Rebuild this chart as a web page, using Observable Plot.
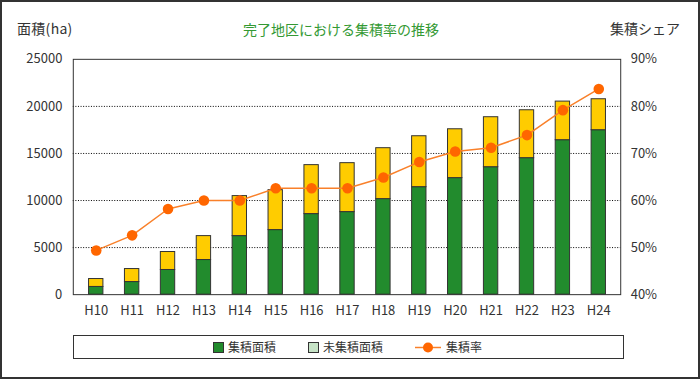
<!DOCTYPE html>
<html>
<head>
<meta charset="utf-8">
<script src="https://cdn.jsdelivr.net/npm/d3@7"></script>
<script src="https://cdn.jsdelivr.net/npm/@observablehq/plot@0.6"></script>
<style>
  html, body { margin: 0; padding: 0; background: #fff; }
  #wrap { position: relative; width: 700px; height: 379px; box-sizing: border-box; border: 2px solid #333; overflow: hidden;
          font-family: "Noto Sans CJK JP", "Noto Sans", sans-serif; color: #333; }
  #chart { position: absolute; left: -2px; top: -2px; }
  .lbl { position: absolute; white-space: nowrap; line-height: 20px; }
  #legend { position: absolute; left: 71px; top: 333px; width: 549px; height: 22px; border: 1px solid #333; font-size: 12px; }
  #legend .it { position: absolute; top: 0; line-height: 22px; white-space: nowrap; }
  #legend .sw { position: absolute; top: 6px; width: 9px; height: 9px; border: 1px solid #333; box-sizing: content-box; }
</style>
</head>
<body>
<div id="wrap">
  <div id="chart"></div>
  <div class="lbl" style="left:15px; top:16px; font-size:14px; letter-spacing:0.3px;">面積(ha)</div>
  <div class="lbl" style="left:241px; top:17px; font-size:14px; color:#339933;">完了地区における集積率の推移</div>
  <div class="lbl" style="left:608px; top:16px; font-size:14px;">集積シェア</div>
  <div id="legend"></div>
</div>
<script>
// Categories (fiscal years)
const years = ["H10","H11","H12","H13","H14","H15","H16","H17","H18","H19","H20","H21","H22","H23","H24"];
// 集積面積 (ha)
const collectedArea = [820, 1340, 2620, 3680, 6220, 6860, 8560, 8770, 10150, 11420, 12380, 13540, 14500, 16410, 17470];
// 未集積面積 (ha)
const uncollectedArea = [840, 1380, 1910, 2540, 4250, 4240, 5200, 5200, 5410, 5410, 5190, 5310, 5090, 4100, 3290];
// 集積率 (%)
const collectionRate = [49.4, 52.6, 58.2, 60.0, 60.0, 62.6, 62.6, 62.6, 64.9, 68.2, 70.4, 71.2, 73.9, 79.2, 83.7];
// Axis ticks
const areaTicks = [0, 5000, 10000, 15000, 20000, 25000];
const rateTicks = ["40%", "50%", "60%", "70%", "80%", "90%"];
const gridTicks = [5000, 10000, 15000, 20000];

const areaMax = 25000, rateMin = 40, rateMax = 90;
const rateToArea = r => (r - rateMin) / (rateMax - rateMin) * areaMax;

const GREEN = "#228b2d", YELLOW = "#ffcc00", LIGHT = "#c6e3c6", ORANGE = "#ff6600", LINE = "#f9802a";

const barData = [];
years.forEach((y, i) => {
  barData.push({year: y, kind: "集積面積", value: collectedArea[i]});
  barData.push({year: y, kind: "未集積面積", value: uncollectedArea[i]});
});
const rateData = years.map((y, i) => ({year: y, rate: collectionRate[i]}));

const chart = Plot.plot({
  width: 700,
  height: 326,
  marginTop: 59,
  marginBottom: 31,
  marginLeft: 73,
  marginRight: 78,
  style: {fontFamily: '"Noto Sans CJK JP", "Noto Sans", sans-serif', fontSize: "13px", color: "#333", background: "transparent"},
  x: {type: "band", domain: years, padding: 0, insetLeft: 5, insetRight: 4, label: null},
  y: {domain: [0, areaMax], label: null},
  color: {domain: ["集積面積", "未集積面積"], range: [GREEN, YELLOW]},
  marks: [
    Plot.ruleY(gridTicks, {stroke: "#000", strokeDasharray: "1,1.6", strokeWidth: 1}),
    Plot.barY(barData, Plot.stackY({x: "year", y: "value", fill: "kind", order: null, stroke: "#333", strokeWidth: 1, insetLeft: 10.8, insetRight: 10.8})),
    Plot.line(rateData, {x: "year", y: d => rateToArea(d.rate), stroke: LINE, strokeWidth: 1.5}),
    Plot.dot(rateData, {x: "year", y: d => rateToArea(d.rate), r: 5.3, fill: ORANGE, stroke: "none"}),
    Plot.frame({stroke: "#333", strokeWidth: 1}),
    Plot.axisX({tickSize: 0, tickPadding: 11, fontSize: 13, label: null}),
    Plot.axisY({anchor: "left", ticks: areaTicks, tickSize: 0, tickPadding: 11, tickFormat: d => String(d), label: null}),
    Plot.axisY({anchor: "right", ticks: areaTicks, tickSize: 0, tickPadding: 10, tickFormat: d => rateTicks[areaTicks.indexOf(d)], label: null})
  ]
});
document.getElementById("chart").appendChild(chart);

// Legend
const legend = document.getElementById("legend");
legend.innerHTML = `
  <div class="sw" style="left:139px; background:${GREEN};"></div>
  <div class="it" style="left:154px;">集積面積</div>
  <div class="sw" style="left:234px; background:${LIGHT};"></div>
  <div class="it" style="left:249px;">未集積面積</div>
  <svg style="position:absolute; left:341px; top:0;" width="28" height="22">
    <line x1="0" y1="11.5" x2="26" y2="11.5" stroke="${LINE}" stroke-width="1.5"></line>
    <circle cx="13" cy="11.5" r="5" fill="${ORANGE}"></circle>
  </svg>
  <div class="it" style="left:372px;">集積率</div>`;
</script>
</body>
</html>
